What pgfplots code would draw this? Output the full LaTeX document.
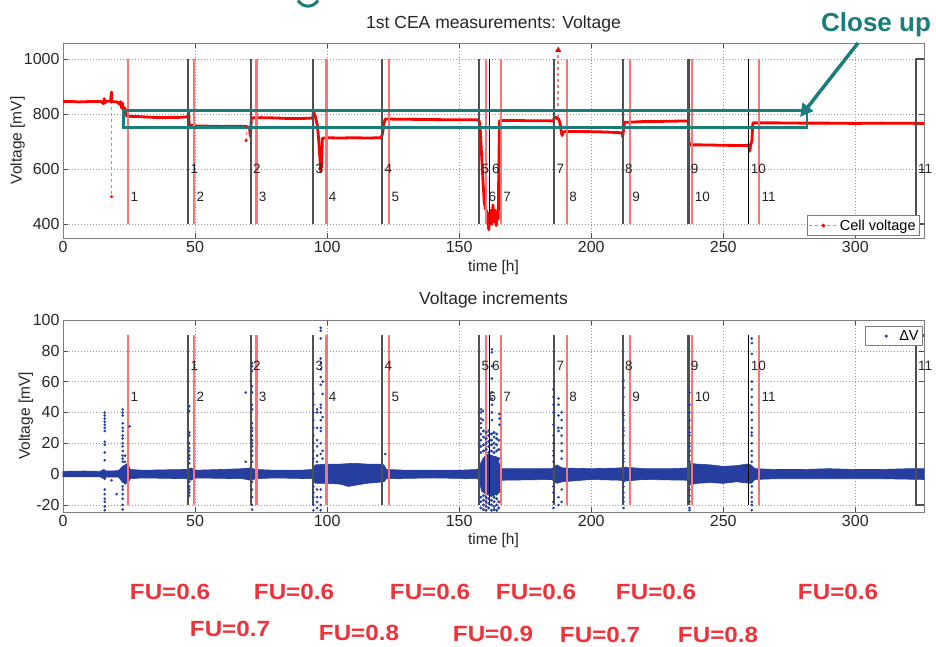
\documentclass[border=0pt]{standalone}
\usepackage{fontspec}
\setmainfont{Liberation Sans}
\usepackage{pgfplots}
\pgfplotsset{compat=1.18}
\usetikzlibrary{arrows.meta}
\definecolor{tealc}{RGB}{26,124,124}
\definecolor{redl}{RGB}{255,115,115}
\definecolor{fured}{RGB}{238,50,58}
\definecolor{bluec}{RGB}{38,62,160}
\definecolor{dgray}{RGB}{80,80,80}
\definecolor{axgray}{RGB}{125,125,125}
\pgfplotsset{
 myaxis/.style={scale only axis, width=861pt, xmin=0, xmax=326, xtick={0,50,...,300},
  clip=false, grid=major, grid style={axgray!80, dash pattern=on 1pt off 2pt, line width=0.5pt},
  tick align=inside, major tick length=5pt, axis line style={axgray, line width=0.9pt},
  tick style={black!70, line width=0.6pt},
  tick label style={font=\fontsize{16}{17}\selectfont, text=black!85},
  /pgf/number format/assume math mode=true, /pgf/number format/1000 sep={},
  label style={font=\fontsize{15.5}{16}\selectfont, text=black!85},
  title style={font=\fontsize{17.5}{18}\selectfont, text=black!85},
  legend style={font=\fontsize{14.5}{15}\selectfont, draw=axgray, line width=0.8pt, fill=white, inner sep=2pt},
  legend cell align=left},
 numlab/.style={draw=none, mark=none, forget plot, nodes near coords, point meta=explicit symbolic,
  nodes near coords style={anchor=west, font=\fontsize{13.5}{14}\selectfont, inner sep=1pt, xshift=1.2pt, text=black!85}}
}
\begin{document}
\begin{tikzpicture}[x=1pt,y=1pt]
\path[use as bounding box] (0,0) rectangle (936,647);
% ---------------- top axis
\begin{axis}[myaxis, at={(63pt,409pt)}, anchor=south west, height=195pt,
  ymin=350, ymax=1058, ytick={400,600,800,1000},
  title={1st CEA measurements: Voltage}, title style={at={(axis description cs:0.5,1.0667)}, anchor=center},
  xlabel={time [h]}, xlabel style={at={(axis description cs:0.5,-0.149)}, anchor=center},
  ylabel={Voltage [mV]}, ylabel style={at={(axis description cs:-0.0528,0.5)}, anchor=center},
  legend style={at={(1,0)}, anchor=south east, xshift=-4pt, yshift=2pt},
  legend image code/.code={\draw[mark repeat=2,mark phase=2,#1] plot coordinates {(2pt,0pt) (16pt,0pt) (30pt,0pt)};}]
\addlegendimage{redl, dashed, line width=0.9pt, mark=*, mark size=1.4pt, mark options={solid, fill=red, draw=red}}
\addlegendentry{Cell voltage}
% spikes
\addplot[redl, dashed, line width=0.8pt, mark=*, mark size=1pt, mark options={solid,red}, forget plot] coordinates {(18.4,846) (18.4,500)};
\addplot[redl, dashed, line width=0.8pt, mark=*, mark size=1pt, mark options={solid,red}, forget plot] coordinates {(69.3,755) (69.3,704)};
\addplot[redl, dashed, line width=1.6pt, forget plot] coordinates {(187.5,785) (187.5,1030)};
\addplot[red, only marks, mark=triangle*, mark size=3.2pt, forget plot] coordinates {(187.5,1032)};
% cell voltage
\addplot[red, line width=2.8pt, line join=round, forget plot] coordinates {
(0,845) (3,846) (6,844) (9,845) (12,846) (14.5,845) (15.3,838) (15.6,856) (15.9,840) (16.3,847)
(18,846) (18.4,880) (18.4,846) (19,845) (20.5,844) (21.3,836) (21.8,845) (22.2,822) (22.5,840)
(22.9,818) (23.4,822) (23.8,800) (24.2,792) (28,791) (32,789) (36,787) (40,788) (44,788) (47.4,790)
(47.6,808) (47.8,760) (50,757) (55,756) (60,755) (65,756) (69,755) (70.6,752) (70.9,720) (71.1,735)
(71.3,786) (75,787) (80,786) (85,784) (90,784) (94.5,785) (94.8,806) (95.3,800) (95.8,780) (96.3,760)
(96.7,720) (97.2,650) (97.6,590) (97.9,610) (98.2,712) (100,714) (105,713) (110,714) (115,713)
(120.5,714) (121,730) (121.5,765) (122,782) (130,781) (140,780) (150,779) (157,779) (157.6,775)
(158,740) (158.5,650) (159,560) (159.5,480) (160,455) (160.7,440) (161.2,380) (161.6,430) (162,450)
(162.4,400) (162.8,470) (163.2,410) (163.6,450) (164,395) (164.4,430) (164.8,420) (165,600) (165.3,776)
(170,777) (175,776) (180,776) (185.7,775) (186,786) (186.8,788) (187.3,782) (187.8,780) (188.3,760)
(188.7,733) (189,722) (189.3,736) (195,737) (200,736) (205,735) (211.5,732) (211.9,718) (212.2,740)
(212.6,770) (216,771) (220,773) (225,773) (230,774) (236.7,775) (237,700) (237.3,688) (242,688)
(248,687) (254,686) (259,686) (259.6,688) (260,665) (260.4,690) (260.8,700) (261.2,768) (270,768)
(280,767) (290,767) (300,766) (310,767) (326,766)};
% vertical lines
\pgfplotsinvokeforeach{24.7,49.7,73.3,99.8,123.5,160.2,165.8,190.8,214.7,238.3,263.6}{
 \addplot[redl, line width=2.2pt, forget plot] coordinates {(#1,400) (#1,1000)};}
\pgfplotsinvokeforeach{47.4,71.05,94.7,120.9,157.6,186,211.9,236.8}{
 \addplot[dgray, line width=2.2pt, forget plot] coordinates {(#1,400) (#1,1000)};}
\pgfplotsinvokeforeach{161.6,259.5}{
 \addplot[black, line width=1.2pt, forget plot] coordinates {(#1,400) (#1,1000)};}
\addplot[dgray, line width=2.2pt, forget plot] coordinates {(326,1000) (322.9,1000) (322.9,400) (326,400)};
% labels
\addplot[numlab] table[meta=l] {
x y l
47.4 600 1
71.05 600 2
94.7 600 3
120.9 600 4
157.6 600 5
161.6 600 6
186 600 7
211.9 600 8
236.8 600 9
259.5 600 10
322.9 600 11
};
\addplot[numlab] table[meta=l] {
x y l
24.7 500 1
49.7 500 2
73.3 500 3
99.8 500 4
123.5 500 5
160.2 500 6
165.8 500 7
190.8 500 8
214.7 500 9
238.3 500 10
263.6 500 11
};
\draw[tealc, line width=2.8pt] (axis cs:22.8,751) rectangle (axis cs:281.7,812.5);
\end{axis}
% ---------------- bottom axis
\begin{axis}[myaxis, at={(63pt,135pt)}, anchor=south west, height=192pt,
  ymin=-24.6, ymax=100, ytick={-20,0,...,100},
  title={Voltage increments}, title style={at={(axis description cs:0.5,1.0755)}, anchor=center},
  xlabel={time [h]}, xlabel style={at={(axis description cs:0.5,-0.146)}, anchor=center},
  ylabel={Voltage [mV]}, ylabel style={at={(axis description cs:-0.043,0.5)}, anchor=center},
  legend style={at={(1,1)}, anchor=north east, xshift=-1pt, yshift=-6pt},
  legend image code/.code={\path[draw=none,fill=none] (0pt,-1pt) rectangle (30pt,1pt); \draw[#1] plot coordinates {(19pt,0pt)};}]
\addlegendimage{only marks, mark=*, mark size=1.1pt, bluec}
\addlegendentry{ΔV}
\addplot[bluec, fill=bluec, line width=0.6pt, forget plot] coordinates {
(0,1.8) (8,2) (14,1.8) (15.5,3) (16.3,2) (21,2.2) (22.5,5) (24.5,7) (25.5,3) (30,2.5) (40,2.8)
(47,3) (48.5,4) (50,2.5) (60,3) (68,3.5) (71,4) (73,3) (80,2.5) (90,2.5) (94.5,3) (95.5,6)
(100,6.5) (105,6.5) (110,7) (115,6.5) (120,6.5) (121.5,6) (122.5,3) (130,2.5) (140,2.5) (150,2.5)
(157,3) (157.8,6) (159,10) (160,12) (161,13) (162.5,12) (164.5,11) (165.3,6) (166,3.5) (175,3.5)
(185,3.5) (187,6) (189,4) (200,3.5) (211,4) (213,4.5) (220,3.5) (230,3.5) (236.5,4) (237.5,7)
(240,6.5) (245,6) (250,5) (255,5.5) (259,6.5) (260.5,6) (262,3.5) (270,3) (280,3) (290,3.5)
(300,3) (310,3) (320,3.5) (326,3.5)
(326,-3.5) (310,-3) (290,-3) (270,-3) (262,-3.5) (260.5,-6) (255,-5) (250,-6) (245,-5.5) (240,-6)
(237.5,-7) (236.5,-4) (220,-3.5) (213,-4.5) (211,-4) (200,-3.5) (189,-5) (187,-6) (185,-3.5)
(166,-4) (165.3,-12) (163,-14) (160,-13) (158.5,-11) (157.8,-6) (157,-3) (140,-2.5) (122.5,-3)
(121.5,-5) (115,-6) (108,-8) (105,-6.5) (100,-6) (95.5,-6) (94.5,-3) (80,-2.5) (73,-3) (71,-4)
(68,-3) (50,-2.5) (48.5,-4) (47,-3) (30,-2.5) (25.5,-3) (24.5,-6) (22.5,-5) (21,-2) (16.3,-2)
(15.5,-3) (14,-1.8) (0,-1.8)} -- cycle;
% dense cluster 158-165
\addplot[bluec, only marks, mark=*, mark size=1.3pt, forget plot] table {
x y
158.2 -22
158.2 -18
158.2 -15
158.2 14
158.2 18
158.2 22
158.2 26
159.2 -23
159.2 -20
159.2 -17
159.2 -14
159.2 15
159.2 19
159.2 24
159.2 28
160.2 -23.5
160.2 -21
160.2 -18
160.2 -15
160.2 16
160.2 20
160.2 23
160.2 27
161.2 -22
161.2 -19
161.2 -16
161.2 -13
161.2 14
161.2 18
161.2 21
161.2 25
161.2 28
162.2 -23.5
162.2 -20
162.2 -17
162.2 -14
162.2 15
162.2 19
162.2 22
162.2 26
163.2 -23
163.2 -21
163.2 -18
163.2 -15
163.2 14
163.2 17
163.2 20
163.2 24
163.2 27
164.2 -23.5
164.2 -20
164.2 -16
164.2 -13
164.2 15
164.2 19
164.2 23
164.2 26
165.0 -22
165.0 -18
165.0 -10
165.0 10
165.0 16
165.0 22
};
\addplot[bluec, only marks, mark=*, mark size=1.1pt, forget plot] table {
x y
15.8 40
15.8 38
15.8 36
15.8 34
15.8 32
15.8 30
15.8 28
15.8 21
15.8 19
15.8 14
15.8 9
15.8 -3
15.8 -10
15.8 -13
15.8 -16
15.8 -18
15.8 -21
15.8 -23.5
18.4 -4
20.3 -13
22.6 42
22.6 40
22.6 38
22.6 33
22.6 30
22.6 28
22.6 25
22.6 23
22.6 20
22.6 18
22.6 15
22.6 12
22.6 10
22.6 8
22.6 -5
22.6 -8
22.6 -10
22.6 -13
22.6 -16
22.6 -20
22.6 -23
23.5 12
23.5 8
23.5 -6
25.2 31
47.8 44
47.8 41
47.8 27
47.8 25
47.8 20
47.8 17
47.8 15
47.8 12
47.8 10
47.8 7
47.8 -5
47.8 -8
47.8 -10
47.8 -12
47.8 -14
69.2 53
69.2 8
71.6 72
71.6 70
71.6 67
71.6 57
71.6 53
71.6 45
71.6 42
71.6 33
71.6 30
71.6 28
71.6 25
71.6 22
71.6 20
71.6 18
71.6 15
71.6 12
71.6 8
71.6 -5
71.6 -10
71.6 -15
71.6 -20
71.6 -23
94.8 52
94.8 45
94.8 40
94.8 35
94.8 30
94.8 25
94.8 20
94.8 15
94.8 10
94.8 -8
94.8 -12
94.8 -15
94.8 -20
94.8 -23.5
96.2 42
96.2 40
96.2 30
96.2 22
96.2 18
96.2 12
96.2 8
96.2 -10
96.2 -15
96.2 -18
96.2 -22
97.6 95
97.6 93
97.6 88
97.6 75
97.6 72
97.6 68
97.6 63
97.6 58
97.6 45
97.6 43
97.6 40
97.6 35
97.6 30
97.6 28
97.6 20
97.6 13
97.6 -5
97.6 -10
97.6 -15
97.6 -20
97.6 -23.5
98.3 60
98.3 52
98.3 37
98.3 15
98.3 10
122 13
158.3 42
158.3 40
158.3 36
158.3 33
158.3 30
159 41
159 35
162.4 81
162.4 79
162.4 70
162.4 62
162.4 53
162.4 49
162.4 45
162.4 40
162.4 35
165.3 39
165.3 36
165.3 32
185.7 55
185.7 50
185.7 45
185.7 40
185.7 32
185.7 25
185.7 20
185.7 15
185.7 12
185.7 8
185.7 -8
185.7 -12
185.7 -18
185.7 -22
187.6 49
187.6 45
187.6 38
187.6 30
187.6 28
187.6 -15
187.6 -20
188.8 40
188.8 35
188.8 30
188.8 25
188.8 20
188.8 15
188.8 10
188.8 -10
188.8 -18
212.2 61
212.2 56
212.2 50
212.2 40
212.2 38
212.2 35
212.2 30
212.2 28
212.2 25
212.2 20
212.2 15
212.2 12
212.2 10
212.2 8
212.2 -5
212.2 -8
212.2 -12
212.2 -15
212.2 -18
212.2 -22
237.2 53
237.2 45
237.2 40
237.2 35
237.2 30
237.2 27
237.2 25
237.2 20
237.2 18
237.2 15
237.2 12
237.2 8
237.2 -5
237.2 -10
237.2 -14
237.2 -18
237.2 -22
237.2 -23.5
260.8 88
260.8 85
260.8 78
260.8 60
260.8 55
260.8 50
260.8 45
260.8 40
260.8 35
260.8 30
260.8 27
260.8 25
260.8 20
260.8 15
260.8 12
260.8 8
260.8 -5
260.8 -8
260.8 -12
260.8 -15
260.8 -18
260.8 -20
260.8 -23.5
};
\pgfplotsinvokeforeach{24.7,49.7,73.3,99.8,123.5,160.2,165.8,190.8,214.7,238.3,263.6}{
 \addplot[redl, line width=2.2pt, forget plot] coordinates {(#1,-20) (#1,90)};}
\pgfplotsinvokeforeach{47.4,71.05,94.7,120.9,157.6,186,211.9,236.8}{
 \addplot[dgray, line width=2.2pt, forget plot] coordinates {(#1,-20) (#1,90)};}
\pgfplotsinvokeforeach{161.6,259.5}{
 \addplot[black, line width=1.2pt, forget plot] coordinates {(#1,-20) (#1,90)};}
\addplot[dgray, line width=2.2pt, forget plot] coordinates {(326,90) (322.9,90) (322.9,-20) (326,-20)};
\addplot[numlab] table[meta=l] {
x y l
47.4 70 1
71.05 70 2
94.7 70 3
120.9 70 4
157.6 70 5
161.6 70 6
186 70 7
211.9 70 8
236.8 70 9
259.5 70 10
322.9 70 11
};
\addplot[numlab] table[meta=l] {
x y l
24.7 50 1
49.7 50 2
73.3 50 3
99.8 50 4
123.5 50 5
160.2 50 6
165.8 50 7
190.8 50 8
214.7 50 9
238.3 50 10
263.6 50 11
};
\end{axis}
% ---------------- annotations
\draw[tealc, line width=3pt] (298,646.5) .. controls (303,639) and (313,639) .. (318,646.5);
\node[anchor=base, text=tealc, font=\fontsize{26}{28}\selectfont\bfseries] at (876,615.3) {Close up};
\draw[tealc, line width=3.5pt, -{Triangle[length=13pt,width=13pt]}] (858,604) -- (800,530);
\begin{scope}[every node/.style={anchor=base, text=fured, font=\fontsize{22}{24}\selectfont\bfseries, xscale=1.1, inner sep=0pt}]
\node at (170,47) {FU=0.6};
\node at (294,47) {FU=0.6};
\node at (430,47) {FU=0.6};
\node at (536,47) {FU=0.6};
\node at (656,47) {FU=0.6};
\node at (838,47) {FU=0.6};
\node at (230,10.5) {FU=0.7};
\node at (359,6) {FU=0.8};
\node at (493,5.5) {FU=0.9};
\node at (600,4) {FU=0.7};
\node at (718,4) {FU=0.8};
\end{scope}
\end{tikzpicture}
\end{document}
